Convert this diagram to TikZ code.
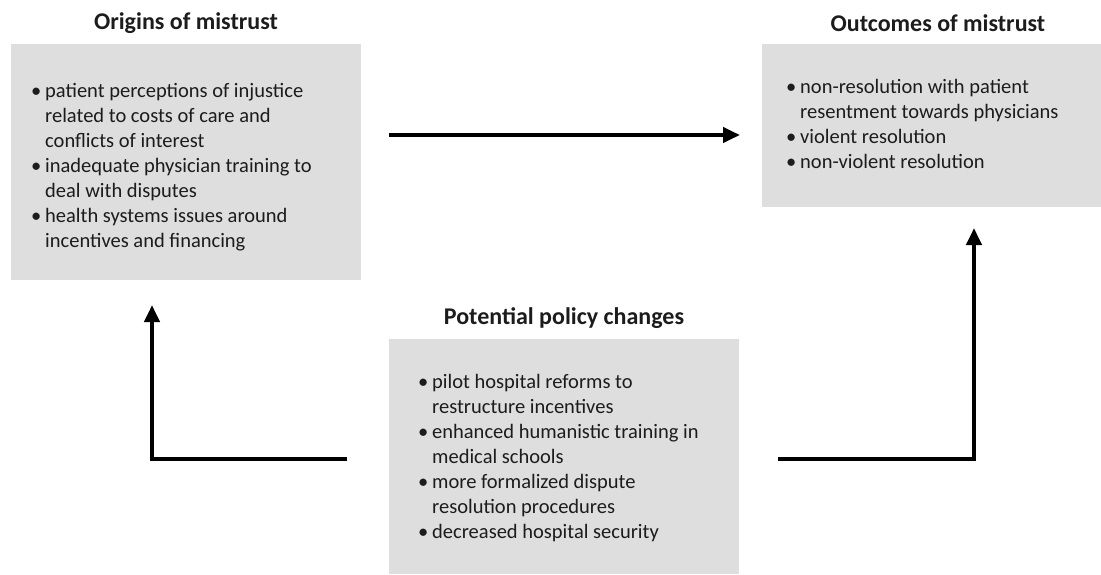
\documentclass[tikz,border=0pt]{standalone}
\usepackage{fontspec}
\setmainfont{Carlito}
\usetikzlibrary{arrows.meta,positioning}
\definecolor{boxgray}{RGB}{222,222,222}
\definecolor{inkgray}{RGB}{28,28,28}

\newcommand{\blt}{\textbullet &}
\tikzset{
    panel/.style={fill=boxgray, draw=none, inner sep=0pt, anchor=north west},
    heading/.style={font=\fontsize{24}{28}\selectfont\bfseries, text=inkgray, inner sep=0pt},
    itemlist/.style={font=\fontsize{20.5}{25}\selectfont, text=inkgray, inner sep=0pt, anchor=base west},
    flow/.style={line width=4pt, -{Triangle[length=17pt,width=15pt]}},
}

\begin{document}
\begin{tikzpicture}[x=1pt, y=-1pt]
    \useasboundingbox (0,0) rectangle (1101,574);

    % grey panels
    \node[panel, minimum width=350, minimum height=236] (orig) at (11,44) {};
    \node[panel, minimum width=339, minimum height=163] (outc) at (762,44) {};
    \node[panel, minimum width=350, minimum height=235] (pol) at (389,339) {};

    \node[heading] (origT) at (186,23) {Origins of mistrust};
    \node[heading] (outcT) at (938,23) {Outcomes of mistrust};
    \node[heading] (polT) at (564,318) {Potential policy changes};

    \node[itemlist] (origL) at (31,97) {%
        \begin{tabular}[t]{@{}p{14pt}@{}l@{}}
        \blt patient perceptions of injustice\\ & related to costs of care and\\ & conflicts of interest\\
        \blt inadequate physician training to\\ & deal with disputes\\
        \blt health systems issues around\\ & incentives and financing
        \end{tabular}};
    \node[itemlist] (outcL) at (786,93) {%
        \begin{tabular}[t]{@{}p{14pt}@{}l@{}}
        \blt non-resolution with patient\\ & resentment towards physicians\\
        \blt violent resolution\\
        \blt non-violent resolution
        \end{tabular}};
    \node[itemlist] (polL) at (418,388) {%
        \begin{tabular}[t]{@{}p{14pt}@{}l@{}}
        \blt pilot hospital reforms to\\ & restructure incentives\\
        \blt enhanced humanistic training in\\ & medical schools\\
        \blt more formalized dispute\\ & resolution procedures\\
        \blt decreased hospital security
        \end{tabular}};

    % connectors
    \coordinate (a1) at (389,135);
    \coordinate (a2) at (740,135);
    \coordinate (b1) at (347,459);
    \coordinate (b2) at (152,305);
    \coordinate (c1) at (778,459);
    \coordinate (c2) at (974,228);
    \draw[flow] (a1) -- (a2);
    \draw[flow] (b1) -| (b2);
    \draw[flow] (c1) -| (c2);
\end{tikzpicture}
\end{document}
